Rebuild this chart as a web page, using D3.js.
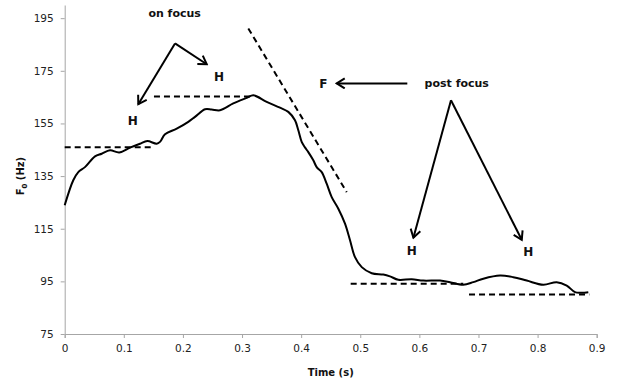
<!DOCTYPE html>
<html>
<head>
<meta charset="utf-8">
<script src="https://d3js.org/d3.v7.min.js"></script>
<style>
  body { margin: 0; background: #fff; font-family: "DejaVu Sans", Verdana, sans-serif; }
  .tick text { font-size: 10.5px; fill: #222; }
  .domain, .tick line { stroke: #a6a6a6; }
  .lbl { font-weight: bold; fill: #111; }
</style>
</head>
<body>
<div id="chart"></div>
<script>
// F0 contour: time (s) and F0 (Hz)
var times = [0, 0.0145, 0.023, 0.0343, 0.0513, 0.0626, 0.0766, 0.0924, 0.1105, 0.1274,
  0.1397, 0.1556, 0.1612, 0.1697, 0.1895, 0.2091, 0.2204, 0.2374, 0.2487, 0.2627,
  0.2852, 0.3079, 0.3191, 0.3417, 0.3642, 0.3783, 0.3896, 0.3952, 0.4009, 0.4065,
  0.4121, 0.4206, 0.4263, 0.4348, 0.4432, 0.4517, 0.4629, 0.4742, 0.4827, 0.4911,
  0.5025, 0.5194, 0.539, 0.5503, 0.5644, 0.587, 0.6067, 0.6349, 0.6518, 0.6743,
  0.6913, 0.7082, 0.7364, 0.7589, 0.7816, 0.8097, 0.8323, 0.8493, 0.8633, 0.8746, 0.8858];
var f0 = [123.9, 133.4, 136.5, 138.4, 142.5, 143.5, 144.8, 144.0, 145.8, 147.3,
  148.3, 147.3, 148.0, 150.9, 153.0, 155.6, 157.5, 160.4, 160.3, 160.0,
  162.6, 164.7, 165.7, 163.2, 161.0, 159.4, 156.2, 152.4, 148.0, 145.9,
  144.1, 141.0, 138.4, 136.5, 132.1, 127.0, 122.6, 116.9, 110.6, 104.2,
  100.4, 98.1, 97.6, 96.9, 95.6, 95.8, 95.3, 95.3, 94.7, 93.7,
  94.7, 96.0, 97.2, 96.6, 95.3, 93.7, 94.7, 93.4, 90.9, 90.7, 90.9];

// dashed reference lines: [t1, f1, t2, f2]
var refLines = [
  [0, 146.0, 0.147, 146.0],
  [0.151, 165.2, 0.316, 165.2],
  [0.3106, 191.1, 0.4771, 128.9],
  [0.4838, 94.1, 0.6743, 94.1],
  [0.684, 90.0, 0.8875, 90.0]
];

// arrows: [fromT, fromF, toT, toF]
var arrows = [
  [0.1866, 185.4, 0.1245, 162.3],
  [0.1866, 185.4, 0.2403, 177.5],
  [0.5796, 170.2, 0.4602, 170.2],
  [0.6535, 163.8, 0.5899, 111.6],
  [0.6535, 163.8, 0.7732, 110.8]
];

// annotation labels: text, t, F (vertical centre)
var noteText = ["on focus", "H", "H", "F", "post focus", "H", "H"];
var noteT = [0.186, 0.115, 0.261, 0.4375, 0.6632, 0.587, 0.7843];
var noteF = [196.9, 155.9, 172.7, 170.2, 170.4, 106.5, 106.1];
var noteSize = [11, 12, 12, 12, 11, 12, 12];

var xTicks = [0, 0.1, 0.2, 0.3, 0.4, 0.5, 0.6, 0.7, 0.8, 0.9];
var yTicks = [75, 95, 115, 135, 155, 175, 195];

var W = 618, H = 382;
var margin = {top: 5, right: 21.3, bottom: 48, left: 64.7};

var svg = d3.select("#chart").append("svg")
    .attr("width", W)
    .attr("height", H);

var x = d3.scaleLinear().domain([0, 0.9]).range([margin.left, W - margin.right]);
var y = d3.scaleLinear().domain([75, 200]).range([H - margin.bottom, margin.top]);

// axes
svg.append("g")
    .attr("transform", "translate(0," + (H - margin.bottom) + ")")
    .call(d3.axisBottom(x).tickValues(xTicks).tickSize(4).tickPadding(7)
      .tickFormat(function(d) { return d === 0 ? "0" : d3.format(".1f")(d); }));

var yAxis = svg.append("g")
    .attr("transform", "translate(" + margin.left + ",0)")
    .call(d3.axisLeft(y).tickValues(yTicks).tickSize(4).tickPadding(7).tickSizeOuter(0));

svg.selectAll(".tick text").style("font-family", "'DejaVu Sans', Verdana, sans-serif");

// arrow head
svg.append("defs").append("marker")
    .attr("id", "head")
    .attr("markerUnits", "userSpaceOnUse")
    .attr("viewBox", "-10 -6 12 12")
    .attr("refX", 0).attr("refY", 0)
    .attr("markerWidth", 12).attr("markerHeight", 12)
    .attr("orient", "auto")
  .append("path")
    .attr("d", "M-8,-5 L0,0 L-8,5")
    .attr("fill", "none")
    .attr("stroke", "#000")
    .attr("stroke-width", 2);

// dashed lines
svg.append("g").selectAll("line")
  .data(refLines)
  .enter().append("line")
    .attr("x1", function(d) { return x(d[0]); })
    .attr("y1", function(d) { return y(d[1]); })
    .attr("x2", function(d) { return x(d[2]); })
    .attr("y2", function(d) { return y(d[3]); })
    .attr("stroke", "#000")
    .attr("stroke-width", 2)
    .attr("stroke-dasharray", "6,4");

// F0 curve
var pts = times.map(function(t, i) { return [t, f0[i]]; });
svg.append("path")
    .datum(pts)
    .attr("fill", "none")
    .attr("stroke", "#000")
    .attr("stroke-width", 2)
    .attr("stroke-linejoin", "round")
    .attr("d", d3.line()
      .curve(d3.curveCatmullRom)
      .x(function(d) { return x(d[0]); })
      .y(function(d) { return y(d[1]); }));

// arrows
svg.append("g").selectAll("line")
  .data(arrows)
  .enter().append("line")
    .attr("x1", function(d) { return x(d[0]); })
    .attr("y1", function(d) { return y(d[1]); })
    .attr("x2", function(d) { return x(d[2]); })
    .attr("y2", function(d) { return y(d[3]); })
    .attr("stroke", "#000")
    .attr("stroke-width", 2)
    .attr("marker-end", "url(#head)");

// labels
svg.append("g").selectAll("text")
  .data(noteText)
  .enter().append("text")
    .attr("class", "lbl")
    .attr("x", function(d, i) { return x(noteT[i]); })
    .attr("y", function(d, i) { return y(noteF[i]); })
    .attr("dy", "0.35em")
    .attr("text-anchor", "middle")
    .style("font-size", function(d, i) { return noteSize[i] + "px"; })
    .text(function(d) { return d; });

// axis titles
svg.append("text")
    .attr("class", "lbl")
    .attr("x", (x(0) + x(0.9)) / 2)
    .attr("y", 376)
    .attr("text-anchor", "middle")
    .style("font-size", "10px")
    .text("Time (s)");

var yt = svg.append("text")
    .attr("class", "lbl")
    .attr("transform", "translate(24," + y(135) + ") rotate(-90)")
    .attr("text-anchor", "middle")
    .style("font-size", "10px");
yt.append("tspan").text("F");
yt.append("tspan").attr("dy", 3).style("font-size", "7px").text("0");
yt.append("tspan").attr("dy", -3).text(" (Hz)");
</script>
</body>
</html>
